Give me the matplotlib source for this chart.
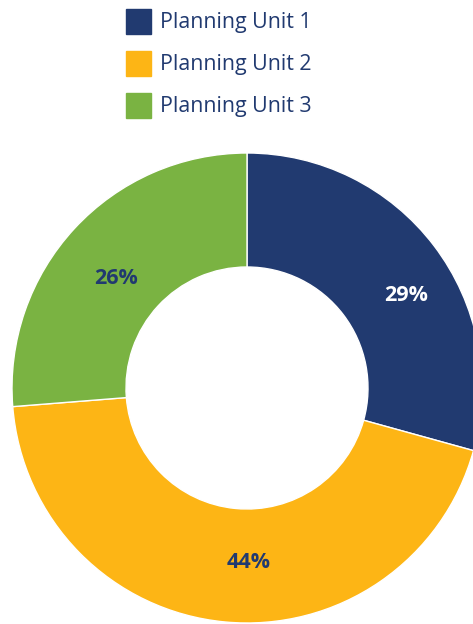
import matplotlib.pyplot as plt
import matplotlib.patches as mpatches

# datos
categorias = ['Planning Unit 1', 'Planning Unit 2', 'Planning Unit 3']
porcentajes = [29, 44, 26]
colores = ['#213A70', '#FDB515', '#7AB342']
colores_texto = ['white', '#213A70', '#213A70']

plt.rcParams['font.family'] = ['Open Sans', 'DejaVu Sans']

fig = plt.figure(figsize=(4.73, 6.24), dpi=100)
ax = fig.add_axes([0, 0, 1, 1])

wedges, textos, autotextos = ax.pie(
    porcentajes, colors=colores, startangle=90, counterclock=False,
    center=(247, 236), radius=235, frame=True,
    wedgeprops=dict(width=114, edgecolor='white', linewidth=1),
    autopct=lambda p: '', pctdistance=0.76)
ax.set_xlim(0, 473)
ax.set_ylim(0, 624)
ax.set_aspect('equal')
ax.axis('off')

# Etiquetas de porcentaje (pequeño ajuste de posición)
ajustes = [(16.5, -16), (18.5, 3), (0, -12)]
for t, valor, c, (dx, dy) in zip(autotextos, porcentajes, colores_texto, ajustes):
    x, y = t.get_position()
    t.set_position((x + dx, y + dy))
    t.set_text(f'{valor}%')
    t.set_color(c)
    t.set_fontsize(15.5)
    t.set_fontweight('bold')

# leyenda manual
for i, (cat, col) in enumerate(zip(categorias, colores)):
    base = 624 - 28.3 - i * 42
    ax.add_patch(mpatches.Rectangle((126, base - 6), 25, 25, color=col, clip_on=False))
    ax.text(160, base, cat, fontsize=15.4, color='#213A70', va='baseline', ha='left')

fig.savefig('out.png', dpi=100)
